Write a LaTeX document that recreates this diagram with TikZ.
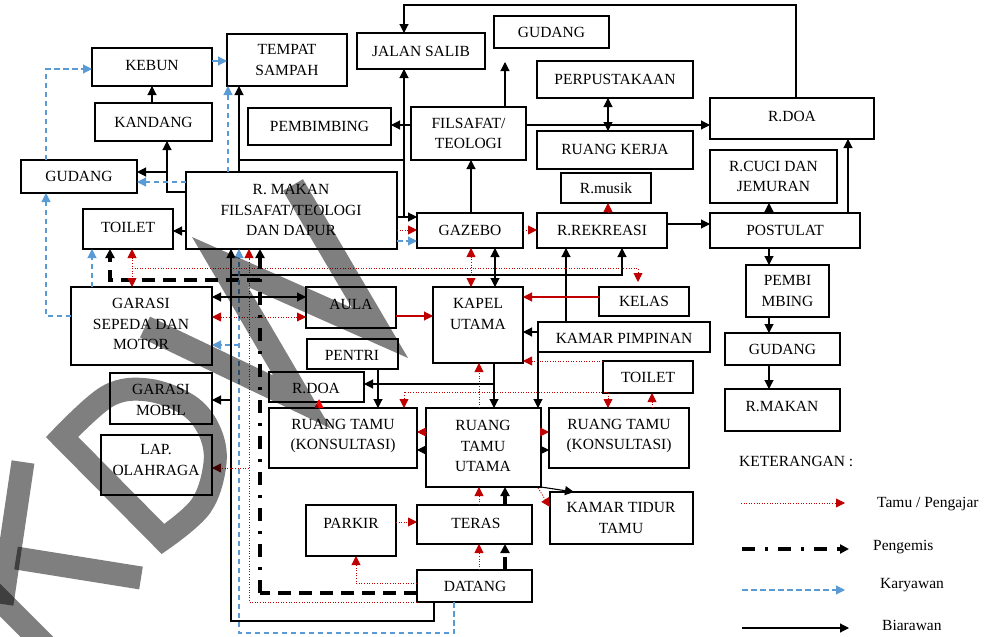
\documentclass[tikz,border=0pt]{standalone}
\usepackage{fontspec}
\setmainfont{Liberation Serif}
\usetikzlibrary{arrows.meta}
\definecolor{tred}{HTML}{C00000}
\definecolor{bred}{HTML}{FF0000}
\definecolor{mred}{HTML}{7F0000}
\definecolor{kblue}{HTML}{5B9BD5}
\tikzset{
  box/.style={draw, line width=1.2pt, inner sep=0pt, outer sep=0pt},
  lbl/.style={inner sep=0pt, align=center, font=\fontsize{15.5}{20.5}\selectfont},
  >={Triangle[length=9pt,width=9pt]},
  bw/.style={draw=black, line width=1.1pt},
  tm/.style={draw=tred, line width=0.9pt, dash pattern=on 1pt off 1.6pt},
  rl/.style={draw=tred, line width=1.1pt},
  ky/.style={draw=kblue, line width=1.1pt, dash pattern=on 5.5pt off 3.5pt},
  pg/.style={draw=black, line width=3.2pt, dash pattern=on 13pt off 10pt on 3pt off 10pt},
  pgdash/.style={draw=black, line width=3.2pt, dash pattern=on 13pt off 8pt},
  tt/.style={tm,-{Triangle[length=9pt,width=9pt,color=tred]}},
  tt2/.style={tm,{Triangle[length=9pt,width=9pt,color=tred]}-{Triangle[length=9pt,width=9pt,color=tred]}},
  kk/.style={ky,-{Triangle[length=9pt,width=9pt,color=kblue]}},
  stampline/.style={draw=black, draw opacity=0.5, line width=23pt, line join=miter, line cap=butt},
}
% \room{name}{x1}{y1}{x2}{y2}: an empty framed room between two corners
\newcommand\room[5]{\node[box,minimum width={(#4)-(#2)},minimum height={(#5)-(#3)}] (#1) at ({((#2)+(#4))/2},{((#3)+(#5))/2}) {};}
\begin{document}
\begin{tikzpicture}[x=1pt,y=-1pt]
\useasboundingbox (0,0) rectangle (994,637);

% ---------- rooms ----------
\room{jalan}{357}{33}{485}{69}
\room{gudt}{494}{16}{609}{48}
\room{kebun}{92}{48}{212}{86}
\room{sampah}{227}{34}{347}{86}
\room{perpus}{537}{61}{693}{98}
\room{rdoa}{710}{98}{874}{139}
\room{kandang}{95}{103}{212}{141}
\room{pembim}{248}{108}{391}{145}
\room{filsafat}{411}{107}{526}{160}
\room{kerja}{537}{131}{693}{169}
\room{rcuci}{710}{150}{837}{203}
\room{gudl}{21}{160}{137}{193}
\room{rmakan}{186}{172}{397}{249}
\room{rmusik}{561}{173}{651}{203}
\room{toiletl}{83}{209}{173}{249}
\room{gazebo}{417}{213}{523}{248}
\room{rekreasi}{537}{213}{667}{248}
\room{postulat}{710}{213}{860}{248}
\room{pembr}{746}{265}{829}{317}
\room{gudr}{725}{333}{840}{365}
\room{rmakr}{725}{389}{840}{431}
\room{kelas}{599}{287}{689}{316}
\room{garasi}{71}{287}{212}{365}
\room{aula}{306}{287}{396}{328}
\room{kapel}{433}{287}{523}{363}
\room{kampim}{538}{322}{710}{352}
\room{pentri}{307}{339}{398}{369}
\room{toiletr}{603}{361}{693}{393}
\room{garmob}{110}{373}{212}{424}
\room{rdoam}{269}{372}{364}{402}
\room{rtkl}{269}{408}{417}{468}
\room{rtu}{426}{408}{541}{487}
\room{rtkr}{549}{408}{689}{468}
\room{lap}{101}{435}{212}{495}
\room{ktt}{550}{492}{693}{544}
\room{parkir}{306}{505}{396}{556}
\room{teras}{417}{505}{532}{544}
\room{datang}{417}{570}{532}{602}

% ---------- room names ----------
\node[lbl] (jalan-t) at (jalan) {JALAN SALIB};
\node[lbl] (gudt-t) at (gudt) {GUDANG};
\node[lbl] (kebun-t) at (152,66) {KEBUN};
\node[lbl] (sampah-t) at (sampah) {TEMPAT\\SAMPAH};
\node[lbl] (perpus-t) at (perpus) {PERPUSTAKAAN};
\node[lbl] (rdoa-t) at (792,116) {R.DOA};
\node[lbl] (kandang-t) at (kandang) {KANDANG};
\node[lbl] (pembim-t) at (pembim) {PEMBIMBING};
\node[lbl] (filsafat-t) at (filsafat) {FILSAFAT/\\TEOLOGI};
\node[lbl] (kerja-t) at (615,149) {RUANG KERJA};
\node[lbl] (rcuci-t) at (rcuci) {R.CUCI DAN\\JEMURAN};
\node[lbl] (gudl-t) at (gudl) {GUDANG};
\node[lbl] (rmakan-t) at (291,210) {R. MAKAN\\FILSAFAT/TEOLOGI\\DAN DAPUR};
\node[lbl] (rmusik-t) at (rmusik) {R.musik};
\node[lbl] (toiletl-t) at (128,227) {TOILET};
\node[lbl] (gazebo-t) at (gazebo) {GAZEBO};
\node[lbl] (rekreasi-t) at (rekreasi) {R.REKREASI};
\node[lbl] (postulat-t) at (postulat) {POSTULAT};
\node[lbl] (pembr-t) at (pembr) {PEMBI\\MBING};
\node[lbl] (gudr-t) at (gudr) {GUDANG};
\node[lbl] (rmakr-t) at (782,406) {R.MAKAN};
\node[lbl] (kelas-t) at (kelas) {KELAS};
\node[lbl] (garasi-t) at (141,324) {GARASI\\SEPEDA DAN\\MOTOR};
\node[lbl] (aula-t) at (351,304) {AULA};
\node[lbl] (kapel-t) at (478,314) {KAPEL\\UTAMA};
\node[lbl] (kampim-t) at (624,338) {KAMAR PIMPINAN};
\node[lbl] (pentri-t) at (352,355) {PENTRI};
\node[lbl] (toiletr-t) at (toiletr) {TOILET};
\node[lbl] (garmob-t) at (161,400) {GARASI\\MOBIL};
\node[lbl] (rdoam-t) at (316,388) {R.DOA};
\node[lbl] (rtkl-t) at (343,436) {RUANG TAMU\\(KONSULTASI)};
\node[lbl] (rtu-t) at (483,446) {RUANG\\TAMU\\UTAMA};
\node[lbl] (rtkr-t) at (619,436) {RUANG TAMU\\(KONSULTASI)};
\node[lbl] (lap-t) at (156,460) {LAP.\\OLAHRAGA};
\node[lbl] (ktt-t) at (621,518) {KAMAR TIDUR\\TAMU};
\node[lbl] (parkir-t) at (351,523) {PARKIR};
\node[lbl] (teras-t) at (476,523) {TERAS};
\node[lbl] (datang-t) at (475,586) {DATANG};

% ---------- bends and free ends ----------
\coordinate (topbend) at (404,5);
\coordinate (bbend) at (231,621);
\coordinate (kbend) at (239,633);
\coordinate (pbend) at (260,593);
\coordinate (gudtin) at (505,62);
\coordinate (kelasin) at (638,282);
\coordinate (rdoain) at (319,399);

% ---------- Biarawan ----------
\draw[bw,->] (rmakan.west |- 0,231) -- (toiletl.east |- 0,231);
\draw[bw,->] (rmakan.west |- 0,192) -| (kandang.south -| 167,0);
\draw[bw,->] (167,172) -- (gudl.east |- 0,172);
\draw[bw,->] (kandang.north -| 152,0) -- (kebun.south -| 152,0);
\draw[bw,->] (rmakan.north -| 239,0) -- (sampah.south -| 239,0);
\draw[bw] (239,160) -- (404,160);
\draw[bw,->] (rmakan.east |- 0,217) -- (gazebo.west |- 0,217);
\draw[bw,->] (404,217) -- (jalan.south -| 404,0);
\draw[bw,->] (filsafat.west |- 0,125) -- (pembim.east |- 0,125);
\draw[bw,->] (filsafat.east |- 0,125) -- (rdoa.west |- 0,125);
\draw[bw,->] (filsafat.north -| gudtin) -- (gudtin);
\draw[bw,<->] (perpus.south -| 608,0) -- (kerja.north -| 608,0);
\draw[bw,->] (gazebo.north -| 471,0) -- (filsafat.south -| 471,0);
\draw[bw,->] (rekreasi.east |- 0,224) -- (postulat.west |- 0,224);
\draw[bw,->] (postulat.north -| 769,0) -- (rcuci.south -| 769,0);
\draw[bw,->] (postulat.north -| 848,0) -- (rdoa.south -| 848,0);
\draw[bw,->] (rdoa.north -| 796,0) |- (topbend) -- (jalan.north -| topbend);
\draw[bw,->] (postulat.south -| 769,0) -- (pembr.north -| 769,0);
\draw[bw,->] (pembr.south -| 769,0) -- (gudr.north -| 769,0);
\draw[bw,->] (gudr.south -| 769,0) -- (rmakr.north -| 769,0);
\draw[bw,<->] (gazebo.south -| 495,0) -- (kapel.north -| 495,0);
\draw[bw,->] (datang.south -| 434,0) |- (bbend) -- (rmakan.south -| bbend);
\draw[bw,->] (231,275) -| (rekreasi.south -| 622,0);
\draw[bw,->] (kampim.north -| 566,0) -- (rekreasi.south -| 566,0);
\draw[bw,->] (kampim.west |- 0,332) -- (kapel.east |- 0,332);
\draw[bw,->] (kampim.south west) -- (rtu.north -| kampim.south west);
\draw[bw,<->] (garasi.east |- 0,297) -- (aula.west |- 0,297);
\draw[bw,->] (231,400) -- (garmob.east |- 0,400);
\draw[bw,->] (kapel.south -| 494,0) -- (rtu.north -| 494,0);
\draw[bw,->] (494,384) -- (rdoam.east |- 0,384);
\draw[bw,->] (pentri.south -| 378,0) -- (rtkl.north -| 378,0);
\draw[bw,->] (rtu.west |- 0,450) -- (rtkl.east |- 0,450);
\draw[bw,->] (rtu.east |- 0,450) -- (rtkr.west |- 0,450);
\draw[bw,->] (rtu.south east) -- (ktt.north -| 574,0);

% ---------- Pengemis ----------
\draw[pgdash] (datang.west |- pbend) -- (pbend);
\draw[pg,->] (pbend) -- (rmakan.south -| pbend);
\draw[pgdash,->] (260,280) -| (toiletl.south -| 110,0);
\draw[pgdash,->] (datang.north -| 505,0) -- (teras.south -| 505,0);
\draw[pgdash,->] (teras.north -| 505,0) -- (rtu.south -| 505,0);

% ---------- Karyawan ----------
\draw[kk] (datang.south -| 454,0) |- (kbend) -- (rmakan.south -| kbend);
\draw[kk] (239,345) -- (garasi.east |- 0,345);
\draw[kk] (rmakan.west |- 0,182) -- (gudl.east |- 0,182);
\draw[kk] (rmakan.north -| 228,0) -- (sampah.south -| 228,0);
\draw[kk] (gudl.north -| 46,0) |- (kebun.west |- 0,69);
\draw[kk] (kebun.east |- 0,61) -- (sampah.west |- 0,61);
\draw[kk] (garasi.west |- 0,316) -| (gudl.south -| 46,0);
\draw[kk] (garasi.north -| 92,0) -- (toiletl.south -| 92,0);
\draw[kk] (rmakan.east |- 0,241) -- (gazebo.west |- 0,241);

% ---------- Tamu / Pengajar ----------
\draw[tt] (datang.south west) -| (rmakan.south -| 249,0);
\draw[tm,-{Triangle[length=9pt,width=9pt,color=mred]}] (249,468) -- (lap.east |- 0,468);
\draw[tt2] (toiletl.south -| 132,0) -- (garasi.north -| 132,0);
\draw[tt] (132,268) -| (kelasin);
\draw[tt2] (gazebo.south -| 471,0) -- (kapel.north -| 471,0);
\draw[tt2] (garasi.east |- 0,317) -- (aula.west |- 0,317);
\draw[rl,-{Triangle[length=9pt,width=9pt,color=tred]}] (aula.east |- 0,316) -- (kapel.west |- 0,316);
\draw[rl,-{Triangle[length=9pt,width=9pt,color=tred]}] (kelas.west |- 0,297) -- (kapel.east |- 0,297);
\draw[tt] (rmakan.east |- 0,230) -- (gazebo.west |- 0,230);
\draw[tt] (gazebo.east |- 0,230) -- (rekreasi.west |- 0,230);
\draw[tt] (rekreasi.north -| 608,0) -- (rmusik.south -| 608,0);
\draw[tt] (datang.west |- 0,583) -| (parkir.south -| 356,0);
\draw[tt] (parkir.east |- 0,522) -- (teras.west |- 0,522);
\draw[tt] (datang.north -| 479,0) -- (teras.south -| 479,0);
\draw[tt] (teras.north -| 479,0) -- (rtu.south -| 479,0);
\draw[tt] (rtu.north -| 479,0) -- (kapel.south -| 479,0);
\draw[tt] (479,392) -| (rtkl.north -| 404,0);
\draw[tt] (479,392) -| (rtkr.north -| 608,0);
\draw[tt] (rtu.west |- 0,432) -- (rtkl.east |- 0,432);
\draw[tt] (rtu.east |- 0,432) -- (rtkr.west |- 0,432);
\draw[tt] (538,488) -- (ktt.west |- 0,507);
\draw[tt] (rtkr.north -| 652,0) -- (toiletr.south -| 652,0);
\draw[tt] (toiletr.west |- 0,361) -- (kapel.east |- 0,361);
\draw[tm,-{Triangle[length=9pt,width=9pt,color=bred]}] (rtkl.north -| rdoain) -- (rdoain);

% ---------- legend ----------
\node[lbl,anchor=west] (ket) at (739,461) {KETERANGAN :};
\coordinate (l1a) at (741,503); \coordinate (l1b) at (845,503);
\coordinate (l2a) at (742,549); \coordinate (l2b) at (849,549);
\coordinate (l3a) at (742,590); \coordinate (l3b) at (845,590);
\coordinate (l4a) at (742,628); \coordinate (l4b) at (849,628);
\draw[tt] (l1a) -- (l1b);
\draw[pg,->] (l2a) -- (l2b);
\draw[kk] (l3a) -- (l3b);
\draw[bw,->] (l4a) -- (l4b);
\node[lbl,anchor=west] (l1t) at (877,504) {Tamu / Pengajar};
\node[lbl,anchor=west] (l2t) at (873,547) {Pengemis};
\node[lbl,anchor=west] (l3t) at (880,585) {Karyawan};
\node[lbl,anchor=west] (l4t) at (882,625) {Biarawan};

% ---------- grey stamp letters K, D, W (semi-transparent) ----------
% K: diagonal stem, upright arm, flat leg
\draw[stampline] (-40,560) -- (48,648);
\draw[stampline] (2,604) -- (23,462);
\draw[stampline] (16,558) -- (141,578);
% D: straight stem and rounded bowl
\draw[stampline] (62,437) -- (163,539)
  -- plot[smooth,tension=0.6] coordinates {(163,539) (201,506) (215,463) (209,430) (188,405) (148,390) (108,396) (62,437)}
  -- cycle;
% W
\draw[stampline] (293,185) -- (380,333) -- (220,262) -- (302,402) -- (145,327);
\end{tikzpicture}
\end{document}
